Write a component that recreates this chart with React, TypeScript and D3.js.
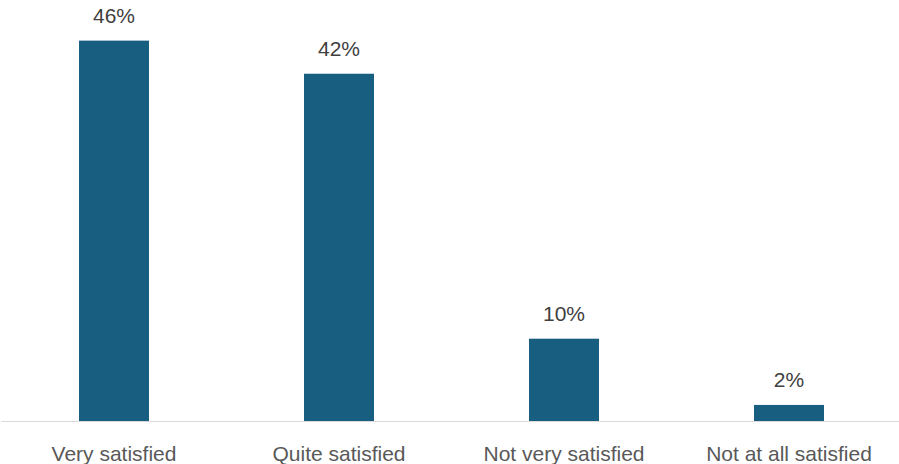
import React from "react";
import * as d3 from "d3";

const categories = ["Very satisfied", "Quite satisfied", "Not very satisfied", "Not at all satisfied"];
const values = [46, 42, 10, 2];

const W = 899;
const H = 464;

export default function App() {
  const x = d3.scaleBand<string>().domain(categories).range([1.5, 901.5]).paddingInner(0.689).paddingOuter(0.689 / 2);
  const y = d3.scaleLinear().domain([0, 50]).range([421.5, 7.5]);
  const font = "'Liberation Sans', Arial, sans-serif";
  return (
    <svg width={W} height={H} style={{ position: "absolute", left: 0, top: 0, background: "#fff" }}>
      {categories.map((c, i) => (
        <g key={c}>
          <rect x={x(c)} y={y(values[i])} width={x.bandwidth()} height={y(0) - y(values[i])} fill="#185E80" />
          <text x={(x(c) as number) + x.bandwidth() / 2} y={y(values[i]) - 18} textAnchor="middle" fontFamily={font} fontSize={21} fill="#404040">
            {d3.format(".0f")(values[i]) + "%"}
          </text>
          <text x={(x(c) as number) + x.bandwidth() / 2} y={461} textAnchor="middle" fontFamily={font} fontSize={21} fill="#595959">
            {c}
          </text>
        </g>
      ))}
      <line x1={1.5} x2={W} y1={421.5} y2={421.5} stroke="#D9D9D9" strokeWidth={1} />
    </svg>
  );
}
